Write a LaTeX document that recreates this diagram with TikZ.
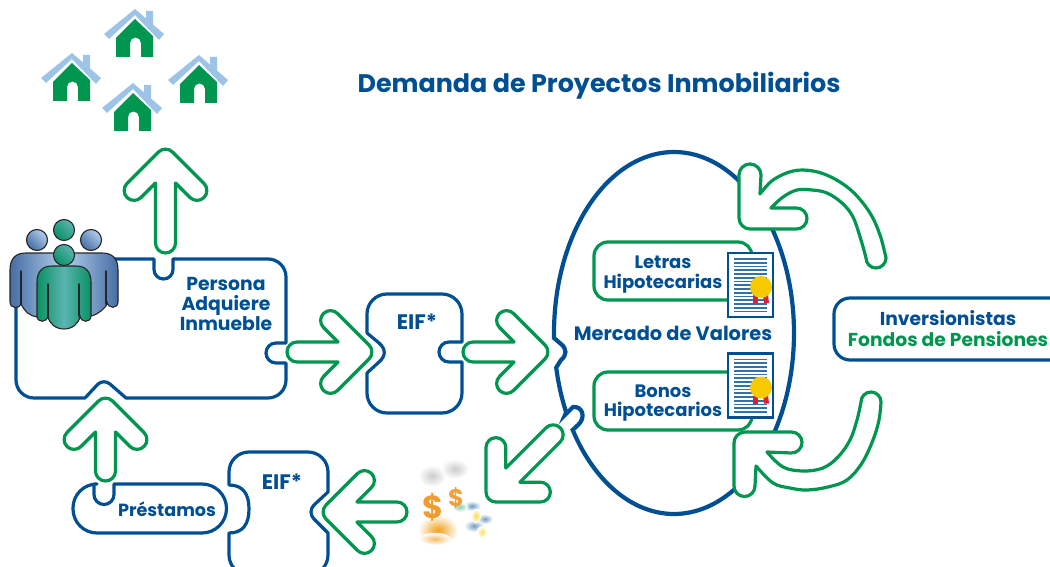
\documentclass[tikz,border=0pt]{standalone}
\usepackage{fontspec}
\setmainfont{Poppins}
\usetikzlibrary{calc}
\definecolor{eblue}{RGB}{0,79,147}
\definecolor{egreen}{RGB}{0,150,80}
\definecolor{roofblue}{RGB}{157,195,230}
\definecolor{pblueD}{RGB}{70,110,165}
\definecolor{pblueL}{RGB}{178,206,235}
\definecolor{pgreenD}{RGB}{10,145,100}
\definecolor{pgreenL}{RGB}{90,180,175}
\definecolor{medal}{RGB}{247,201,0}
\definecolor{ribbon}{RGB}{222,30,50}
\definecolor{gold}{RGB}{240,160,30}
\tikzset{
  x=1pt,y=-1pt,
  puzzle/.style={draw=eblue,line width=3.2pt,line join=round},
  greenline/.style={draw=egreen,line width=3.2pt,fill=white,line join=round},
  greenbox/.style={draw=egreen,line width=3.2pt,rounded corners=14pt,fill=white},
  label/.style={text=eblue,align=center,inner sep=0pt,font=\fontsize{18}{19.6}\selectfont\bfseries},
  bluebody/.style={draw=black!85,line width=1.1pt,left color=pblueD,right color=pblueD,middle color=pblueL},
  greenbody/.style={draw=black!85,line width=1.1pt,left color=pgreenD,right color=pgreenD,middle color=pgreenL},
  bluehead/.style={draw=black!85,line width=1.1pt,top color=pblueL,bottom color=pblueD,shading angle=-45},
  greenhead/.style={draw=black!85,line width=1.1pt,top color=pgreenL,bottom color=pgreenD,shading angle=-45},
  slit/.style={draw=black!85,line width=1.5pt,line cap=round},
}
% block arrow: sharp tip at (x,y), rotation, length
\newcommand{\blockarrow}[4]{%
  \begin{scope}[shift={(#1,#2)},rotate=#3]
    \path[greenline] (-10,38) -- (-24.5,52.5) arc[start angle=-45,delta angle=-180,radius=9.9pt]
      -- (-7,7) arc[start angle=135,delta angle=-90,radius=9.9pt]
      -- (38.5,38.5) arc[start angle=45,delta angle=-180,radius=9.9pt]
      -- (10,38) -- (10,#4-10) arc[start angle=0,end angle=-180,radius=10pt] -- cycle;
  \end{scope}}
% house: apex position
\newcommand{\house}[2]{%
  \begin{scope}[shift={(#1,#2)}]
    \fill[roofblue] (0,0) -- (11,9.5) -- (11,2) -- (18,2) -- (18,15.5) -- (29,25) -- (24,31) -- (0,6) -- (-26,30) -- (-31,25) -- cycle;
    \fill[egreen] (0,10) -- (18,27) -- (18,48) -- (6,48) -- (6,34) arc[start angle=0,end angle=180,radius=5.5pt] -- (-5,48) -- (-19,48) -- (-19,29) -- cycle;
  \end{scope}}
% certificate
\newcommand{\certificate}[2]{%
  \begin{scope}[shift={(#1,#2)}]
    \fill[white] (0,0) rectangle (45,64);
    \foreach \k in {0,...,14}{\draw[eblue!80,line width=1.6pt] (6,6+\k*3.75) -- (39,6+\k*3.75);}
    \draw[eblue,line width=2.2pt] (0,0) rectangle (45,64);
    \fill[ribbon] (25,42) -- (30,42) -- (30,50) -- (25,50) -- cycle;
    \fill[ribbon] (35,42) -- (40,42) -- (41,50) -- (36,50) -- cycle;
    \fill[medal] (33,34) circle[radius=11pt];
  \end{scope}}
\begin{document}
\begin{tikzpicture}
\useasboundingbox (0,0) rectangle (1050,567);
\clip (0,0) rectangle (1050,567);
% houses
\house{135}{9}\house{72}{53}\house{199}{55}\house{133}{83}
% title
\node[label,font=\fontsize{25.4}{28}\selectfont\bfseries] (title) at (599,85.5) {Demanda de Proyectos Inmobiliarios};
% main box
\path[puzzle] (100,259) -- (154,259) -- (154,269.5) arc[start angle=180,end angle=360,radius=9.5pt] -- (173,259) -- (268,259)
  arc[start angle=90,end angle=0,radius=18pt] -- (286,343) -- (276,343) arc[start angle=90,end angle=270,radius=10pt] -- (286,363) -- (286,380)
  arc[start angle=0,end angle=-90,radius=18pt] -- (126,398) -- (110,384) .. controls (106,381) and (102,381) .. (98,384) -- (85,398) -- (34,398)
  arc[start angle=-90,end angle=-180,radius=18pt] -- (16,280);
\node[label,font=\fontsize{18.8}{20}\selectfont\bfseries] (persona) at (226,303.5) {Persona\\Adquiere\\Inmueble};
% up arrow to houses
\blockarrow{165.5}{145}{0}{108}
% people
\draw[bluebody] (10,270) .. controls (10,258) and (16,253) .. (26,253) -- (102,253) .. controls (112,253) and (118,258) .. (118,270)
  -- (118,302) .. controls (118,309) and (108,309) .. (107,302) -- (106,306) .. controls (100,313) and (95,316) .. (85,317) -- (37,317)
  .. controls (30,316) and (25,312) .. (21,304) .. controls (20,309) and (10,309) .. (10,302) -- cycle;
\draw[slit] (21,271) -- (21,304);
\draw[slit] (106,271) -- (106,304);
\draw[bluehead] (37,240) circle[radius=10.5pt];
\draw[bluehead] (91,240) circle[radius=10.5pt];
\draw[greenhead] (64,230) circle[radius=10.5pt];
\draw[greenbody] (37,282) .. controls (37,271) and (43,266) .. (52,266) -- (76,266) .. controls (85,266) and (91,271) .. (91,282)
  -- (91,316) .. controls (91,323) and (81,323) .. (80,316) .. controls (79,324) and (72,329) .. (64,329) .. controls (56,329) and (49,324) .. (48,316)
  .. controls (47,323) and (37,323) .. (37,316) -- cycle;
\draw[slit] (48,284) -- (48,316);
\draw[slit] (79,284) -- (79,316);
\draw[greenhead] (64,255) circle[radius=10.5pt];
% EIF 1
\path[puzzle] (367,314) arc[start angle=180,end angle=90,radius=20pt] -- (442,294) arc[start angle=90,end angle=0,radius=20pt]
  -- (462,342) -- (449,342) arc[start angle=90,end angle=270,radius=10pt] -- (462,362) -- (462,393)
  arc[start angle=0,end angle=-90,radius=20pt] -- (387,413) arc[start angle=-90,end angle=-180,radius=20pt]
  -- (367,373) -- (379,362) .. controls (386,356) and (386,349) .. (379,343) -- (367,333) -- cycle;
\node[label,font=\fontsize{21}{23}\selectfont\bfseries] (eif1) at (417,322) {EIF*};
\blockarrow{376}{352}{-90}{89}
\blockarrow{552}{352}{-90}{89}
% market ellipse
\path[puzzle,line width=4.2pt,line join=miter] plot[domain=178.4:507.6,samples=120,smooth] ({674+120*cos(\x)},{333+181*sin(\x)})
  -- (578,425) .. controls (586,418) and (583,406) .. (573,407) -- (565,415)
  -- plot[domain=154:169,samples=6] ({674+120*cos(\x)},{333+181*sin(\x)})
  -- (561,360) .. controls (567,355) and (567,349) .. (561,344) -- cycle;
% securities
\path[greenbox] (594,242) rectangle (752,300);
\path[greenbox] (594,372) rectangle (752,430);
\certificate{728}{253}
\certificate{728}{353.5}
\node[label] (letras) at (663,274.5) {Letras\\Hipotecarias};
\node[label] (bonos) at (663,403) {Bonos\\Hipotecarios};
\node[label,font=\fontsize{19.4}{21}\selectfont\bfseries] (mercado) at (673,333) {Mercado de Valores};
% investors
\path[puzzle] (1060,298) -- (850,298) arc[start angle=90,end angle=180,radius=16pt] -- (834,344) arc[start angle=180,end angle=270,radius=16pt] -- (1060,360);
\node[label,font=\fontsize{18.7}{20}\selectfont\bfseries] (inv) at (948,318) {Inversionistas};
\node[label,font=\fontsize{18.7}{20}\selectfont\bfseries,text=egreen] (fondos) at (948,339) {Fondos de Pensiones};
% curved arrows
\path[greenline] (760,194) -- plot[smooth,tension=.6] coordinates {(760,194) (773,180) (793,171) (813,171) (833,178) (853,192) (870,213) (880,235) (886,258)}
  arc[start angle=0,end angle=-180,radius=10pt]
  -- plot[smooth,tension=.6] coordinates {(866,258) (861,240) (853,217) (842,203) (827,193) (812,190) (797,190) (783,197) (771,208)}
  -- (796.5,208) arc[start angle=90,end angle=-90,radius=10.5pt] -- (750,229) arc[start angle=-90,end angle=-180,radius=11pt]
  -- (739,175) arc[start angle=180,end angle=0,radius=11pt] -- cycle;
\path[greenline] (756,466) -- plot[smooth,tension=.6] coordinates {(756,466) (773,483) (790,488) (807,490) (828,487) (847,480) (862,463) (873,440) (879,420) (881,402)}
  arc[start angle=0,end angle=180,radius=10pt]
  -- plot[smooth,tension=.6] coordinates {(861,402) (857,420) (850,440) (838,457) (823,468) (803,471) (783,467) (767,452)}
  -- (791.5,453) arc[start angle=-90,end angle=90,radius=10.5pt] -- (745,432) arc[start angle=90,end angle=180,radius=11pt]
  -- (734,486) arc[start angle=180,end angle=360,radius=10.5pt] -- cycle;
% money
\begin{scope}
  \shade[inner color=black!20,outer color=white] (432,476) ellipse[x radius=14pt,y radius=11pt];
  \shade[inner color=black!20,outer color=white] (455,469) ellipse[x radius=14pt,y radius=10pt];
  \shade[inner color=gold,outer color=white] (438,530) ellipse[x radius=20pt,y radius=15pt];
  \shade[inner color=gold!70,outer color=white] (435,539) ellipse[x radius=16pt,y radius=6pt];
  \shade[inner color=eblue!55,outer color=white] (472,506) ellipse[x radius=9pt,y radius=5pt];
  \shade[inner color=eblue!55,outer color=white] (474,526) ellipse[x radius=10pt,y radius=6pt];
  \shade[inner color=eblue!55,outer color=white] (485,519) ellipse[x radius=8pt,y radius=5pt];
  \shade[inner color=egreen!45,outer color=white] (460,507) ellipse[x radius=8pt,y radius=5pt];
  \shade[inner color=medal!70,outer color=white] (476,516) ellipse[x radius=5pt,y radius=7pt];
  \shade[inner color=medal!60,outer color=white] (482,532) ellipse[x radius=5pt,y radius=6pt];
  \node[text=gold!90!red,font=\fontsize{32}{32}\selectfont\bfseries,inner sep=0pt,opacity=.9] (dollarA) at (433,507) {\$};
  \node[text=gold!90!red,font=\fontsize{24}{24}\selectfont\bfseries,inner sep=0pt,opacity=.85] (dollarB) at (456,498) {\$};
\end{scope}
% diagonal arrow
\blockarrow{486}{502}{135}{105}
% lower EIF
\blockarrow{319}{512}{90}{88}
\path[puzzle] (229,472) arc[start angle=180,end angle=90,radius=20pt] -- (308,452) arc[start angle=90,end angle=0,radius=20pt]
  -- (328,492) -- (314,505) .. controls (310,509) and (310,515) .. (314,519) -- (328,533) -- (328,555) arc[start angle=0,end angle=-90,radius=20pt]
  -- (249,575) arc[start angle=-90,end angle=-180,radius=20pt] -- (229,533) .. controls (243,533) and (249,524) .. (249,509) .. controls (249,494) and (243,485) .. (229,485) -- cycle;
\node[label,font=\fontsize{21}{23}\selectfont\bfseries] (eif2) at (282,482) {EIF*};
% loans
\path[puzzle] (94,484) -- (94,494.5) arc[start angle=180,end angle=360,radius=10pt] -- (114,484) -- (202,484)
  arc[start angle=90,end angle=-90,radius=24.5pt] -- (97,533) arc[start angle=-90,end angle=-180,radius=24pt] -- (73,508)
  arc[start angle=180,end angle=90,radius=24pt] -- cycle;
\node[label,font=\fontsize{17.6}{20}\selectfont\bfseries] (prestamos) at (167,509) {Préstamos};
\blockarrow{105.5}{394}{0}{87}
\end{tikzpicture}
\end{document}
